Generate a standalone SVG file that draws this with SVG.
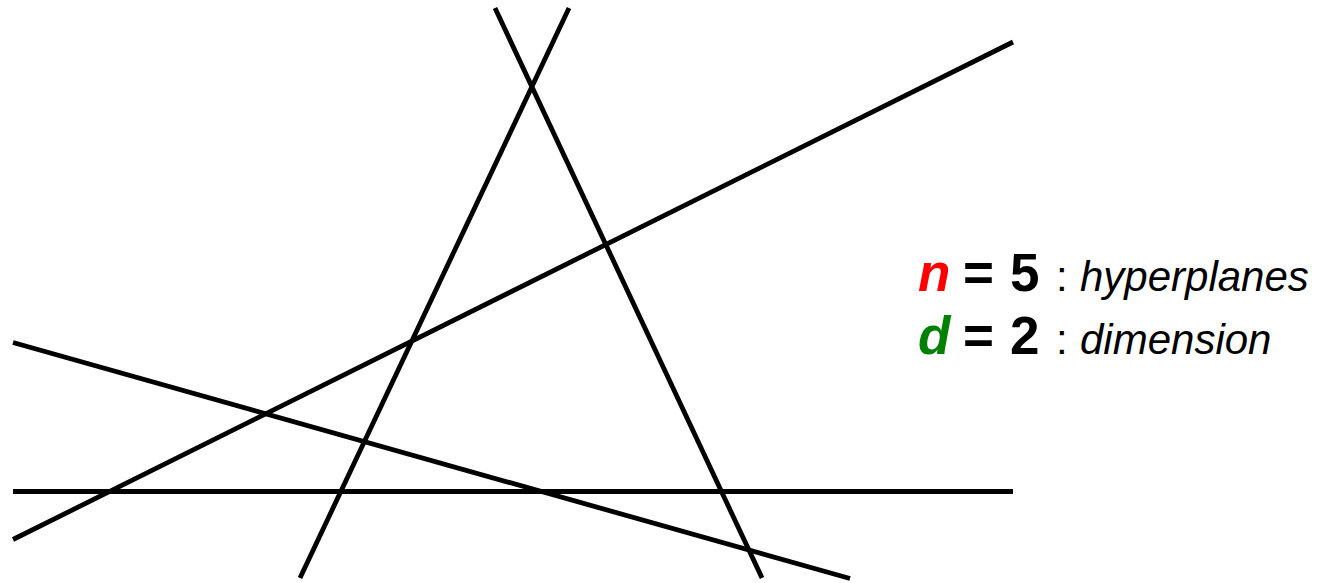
<svg xmlns="http://www.w3.org/2000/svg" width="1329" height="583" viewBox="0 0 1329 583">
<style>
.ln{stroke:#000;stroke-width:4.8;fill:none}
.t{font-family:"Liberation Sans",Arial,sans-serif;font-size:42px}
.b{font-weight:bold;font-size:53px}
.i{font-style:italic}
</style>
<rect width="1329" height="583" fill="#fff"/>
<g id="connectors">
<line class="ln" x1="13" y1="491.5" x2="1013" y2="491.5"/>
<line class="ln" x1="13" y1="342.5" x2="850" y2="578.5"/>
<line class="ln" x1="13" y1="539.5" x2="1013" y2="42"/>
<line class="ln" x1="300" y1="578" x2="569" y2="8"/>
<line class="ln" x1="495" y1="8" x2="762" y2="578"/>
</g>
<g id="legend">
<text class="t" y="291"><tspan x="918" class="b i" fill="#ff0000">n</tspan><tspan x="963" class="b">=</tspan><tspan x="1010" class="b">5</tspan><tspan x="1056">:</tspan><tspan x="1080" class="i">hyperplanes</tspan></text>
<text class="t" y="354"><tspan x="918" class="b i" fill="#008000">d</tspan><tspan x="963" class="b">=</tspan><tspan x="1010" class="b">2</tspan><tspan x="1056">:</tspan><tspan x="1080" class="i">dimension</tspan></text>
</g>
</svg>
